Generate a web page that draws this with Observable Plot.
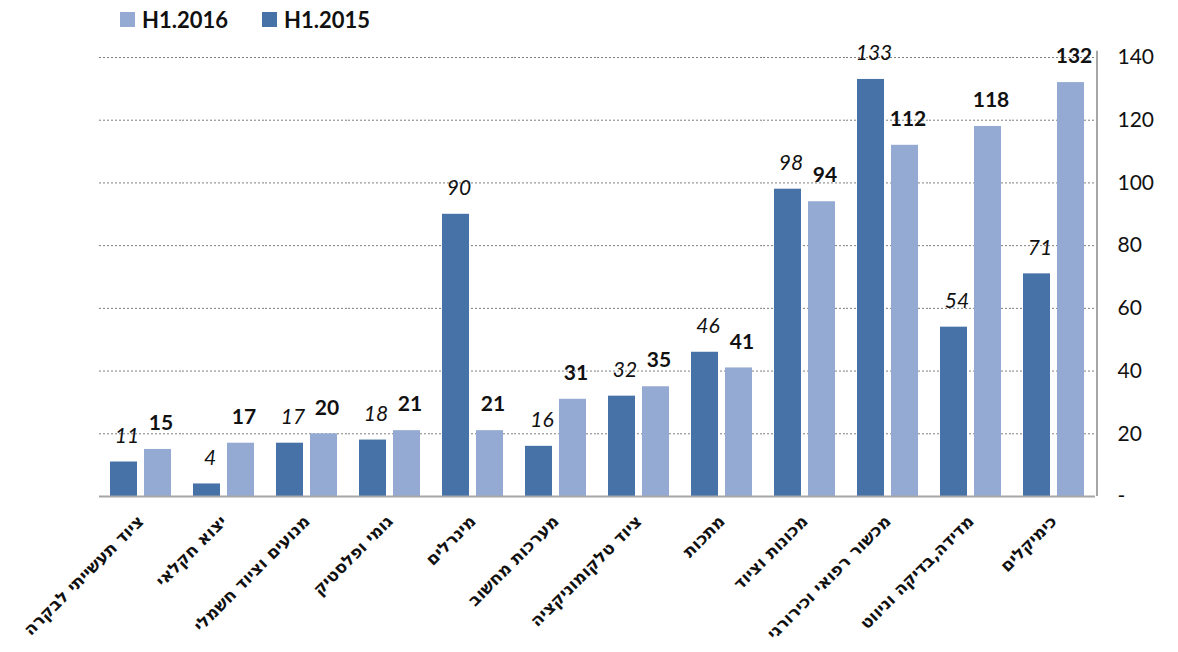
<!DOCTYPE html>
<html>
<head>
<meta charset="utf-8">
<script src="https://cdn.jsdelivr.net/npm/d3@7"></script>
<script src="https://cdn.jsdelivr.net/npm/@observablehq/plot@0.6"></script>
<style>
  html, body { margin: 0; padding: 0; background: #fff; }
  #legend { height: 40px; position: relative; font-family: Lato, "Liberation Sans", sans-serif; font-weight: bold; font-size: 22px; color: #111; }
  .item { position: absolute; top: 6px; display: flex; align-items: center; }
  .sw { width: 15px; height: 15px; margin-right: 7px; display: inline-block; }
  #chart svg { display: block; }
</style>
</head>
<body>
<div id="legend"></div>
<div id="chart"></div>
<script>
const categories = [
  "ציוד תעשייתי לבקרה",
  "יצוא חקלאי",
  "מנועים וציוד חשמלי",
  "גומי ופלסטיק",
  "מינרלים",
  "מערכות מחשוב",
  "ציוד טלקומוניקציה",
  "מתכות",
  "מכונות וציוד",
  "מכשור רפואי וכירורגי",
  "מדידה,בדיקה וניווט",
  "כימיקלים"
];
const values2015 = [11, 4, 17, 18, 90, 16, 32, 46, 98, 133, 54, 71];
const values2016 = [15, 17, 20, 21, 21, 31, 35, 41, 94, 112, 118, 132];
const series = ["H1.2015", "H1.2016"];
const legendOrder = ["H1.2016", "H1.2015"];
const colors = ["#4672A8", "#95AAD2"];
const yTicks = [0, 20, 40, 60, 80, 100, 120, 140];

const data = categories.flatMap((c, i) => [
  {cat: c, series: series[0], value: values2015[i]},
  {cat: c, series: series[1], value: values2016[i]}
]);

// legend
const legend = document.getElementById("legend");
const legendX = [120, 262];
legendOrder.forEach((s, i) => {
  const it = document.createElement("div");
  it.className = "item";
  it.style.left = legendX[i] + "px";
  const sw = document.createElement("span");
  sw.className = "sw";
  sw.style.background = colors[series.indexOf(s)];
  const t = document.createElement("span");
  t.textContent = s;
  it.appendChild(sw); it.appendChild(t);
  legend.appendChild(it);
});

const numFont = "Lato, 'Liberation Sans', sans-serif";
const plot = Plot.plot({
  width: 1178,
  height: 612,
  marginTop: 17,
  marginBottom: 156,
  marginLeft: 97,
  marginRight: 81,
  fx: {domain: categories, padding: 0, axis: null},
  x: {domain: series, paddingInner: 0.22, paddingOuter: 0.3, axis: null},
  y: {domain: [0, 140], axis: null},
  color: {domain: series, range: colors},
  marks: [
    Plot.gridY(yTicks.filter(d => d > 0), {stroke: "#7f7f7f", strokeOpacity: 1, strokeDasharray: "2,2", strokeWidth: 1}),
    Plot.barY(data, {fx: "cat", x: "series", y: "value", fill: "series"}),
    Plot.ruleY([0], {stroke: "#a6a6a6", strokeWidth: 2}),
    Plot.text(data.filter(d => d.series === series[0]), {
      fx: "cat", x: "series", y: "value", text: d => String(d.value),
      dy: -26, dx: 3, fontSize: 21, fontStyle: "italic", fontFamily: numFont, fill: "#111"
    }),
    Plot.text(data.filter(d => d.series === series[1]), {
      fx: "cat", x: "series", y: "value", text: d => String(d.value),
      dy: -26, dx: 3, fontSize: 21, fontWeight: "bold", fontFamily: numFont, fill: "#111"
    }),
    Plot.axisFx({
      anchor: "bottom", tickRotate: -45, tickSize: 0, tickPadding: 22, label: null,
      fontSize: 17, fontWeight: "bold", fontFamily: "'DejaVu Sans', sans-serif",
      textAnchor: "end", fill: "#111"
    }),
    Plot.axisY({
      anchor: "right", ticks: yTicks, tickSize: 0, tickPadding: 22, label: null,
      tickFormat: d => d === 0 ? "-" : String(d), fontSize: 21, fontFamily: numFont, fill: "#111",
      textAnchor: "start"
    })
  ]
});
document.getElementById("chart").appendChild(plot);

// right axis line
const ys = plot.scale("y");
const svg = d3.select(plot);
const xr = 1178 - 81;
svg.append("line")
  .attr("x1", xr).attr("x2", xr)
  .attr("y1", ys.apply(0)).attr("y2", ys.apply(142))
  .attr("stroke", "#a6a6a6").attr("stroke-width", 2);
</script>
</body>
</html>
